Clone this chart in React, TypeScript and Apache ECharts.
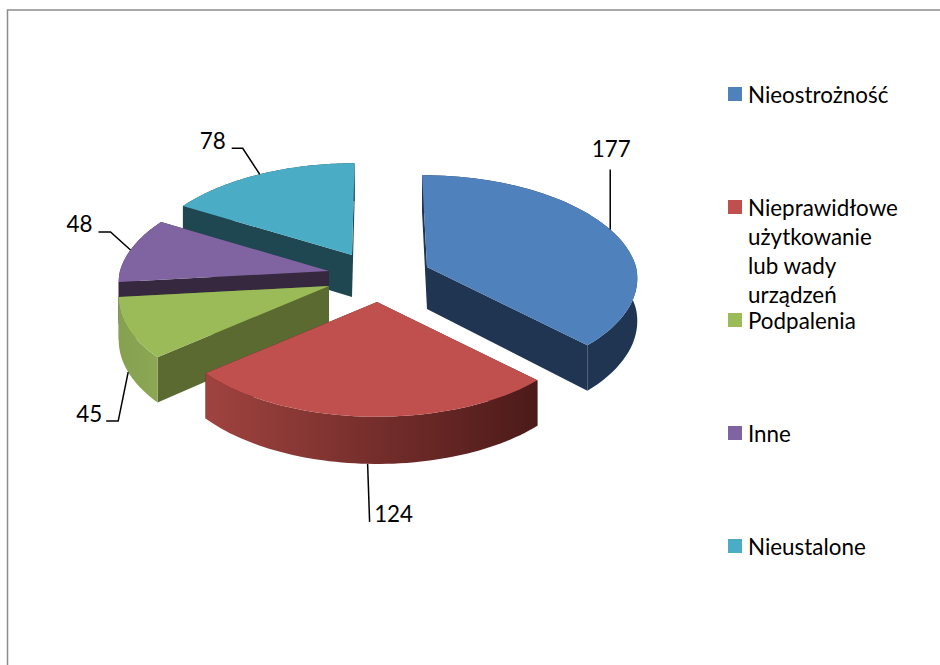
import React, { useEffect, useRef } from "react";
import * as echarts from "echarts";

const names = ["Nieostrożność", "Nieprawidłowe\nużytkowanie\nlub wady\nurządzeń", "Podpalenia", "Inne", "Nieustalone"];
const values = [177, 124, 45, 48, 78];
const topColors = ["#4f81bd", "#c0504d", "#9bbb59", "#8064a2", "#4bacc6"];
const wallColors = ["#1f3552", "#4d1b1a", "#5a6a30", "#35283f", "#1f4751"];
const outerColors: string[][] = [
  ["#1f3552", "#1f3552"],
  ["#a0433f", "#4c1a19"],
  ["#85a04f", "#8da854"],
  ["#35283f", "#35283f"],
  ["#1f4751", "#1f4751"],
];
const drawOrder = [4, 3, 2, 0, 1];

// layout of the exploded 3D pie
const FONT = '22.4px Lato, "Noto Sans", sans-serif';
const VX = 378;
const VY = 270;
const RX = 209;
const RY = 102;
const K = 0.111;
const DEPTH = 42;
const explode = [[49, -3], [-1, 32], [-49, 16], [-49, 1], [-26, -15]];
const leaders = [
  { front: false, pts: [[0, -60]], label: [1, -81] },
  { front: true, pts: [[2, 58]], label: [26, 50] },
  { front: true, pts: [[-10, 49], [-22, 49]], label: [-39, 41] },
  { front: false, pts: [[-20, -18], [-32, -18]], label: [-51, -26] },
  { front: false, pts: [[-17, -26], [-28, -26]], label: [-47, -34] },
];

const total = values.reduce((a, b) => a + b, 0);
const startAngles: number[] = [];
values.reduce((acc, v, i) => {
  startAngles[i] = acc;
  return acc + (v / total) * Math.PI * 2;
}, 0);

function project(i: number, theta: number, r: number, down: number): number[] {
  const u = Math.sin(theta) * r;
  const v = -Math.cos(theta) * r;
  const w = 1 / (1 - K * v);
  const ax = explode[i][0];
  const ay = explode[i][1];
  return [VX + ax * Math.min(w, 1) + RX * u * w, VY + ay + RY * v * w + down * w];
}

function arc(i: number, a0: number, a1: number, down: number): number[][] {
  const n = 60;
  const pts: number[][] = [];
  for (let s = 0; s <= n; s++) pts.push(project(i, a0 + ((a1 - a0) * s) / n, 1, down));
  return pts;
}

function renderItem(params: any, api: any) {
  const i = drawOrder[params.dataIndex];
  const value = api.value(0);
  const a0 = startAngles[i];
  const a1 = a0 + (value / total) * Math.PI * 2;
  const apexTop = project(i, 0, 0, 0);
  const apexBot = project(i, 0, 0, DEPTH);
  const wall = (a: number) => ({
    type: "polygon",
    shape: { points: [apexTop, project(i, a, 1, 0), project(i, a, 1, DEPTH), apexBot] },
    style: { fill: wallColors[i] },
  });
  const outer = {
    type: "polygon",
    shape: { points: [...arc(i, a0, a1, 0), ...arc(i, a0, a1, DEPTH).reverse()] },
    style: {
      fill: new echarts.graphic.LinearGradient(0, 0, 1, 0, [
        { offset: 0, color: outerColors[i][0] },
        { offset: 1, color: outerColors[i][1] },
      ]),
    },
  };
  const top = {
    type: "polygon",
    shape: { points: [apexTop, ...arc(i, a0, a1, 0)] },
    style: { fill: topColors[i] },
  };
  const mid = (a0 + a1) / 2;
  const l = leaders[i];
  const anchor = project(i, mid, 1, l.front ? DEPTH : 0);
  const line = {
    type: "polyline",
    shape: { points: [anchor, ...l.pts.map((p) => [anchor[0] + p[0], anchor[1] + p[1]])] },
    style: { fill: "none", stroke: "#000", lineWidth: 1.5 },
  };
  const text = {
    type: "text",
    style: {
      text: String(value),
      x: anchor[0] + l.label[0],
      y: anchor[1] + l.label[1],
      fill: "#000",
      font: FONT,
      align: "center",
      verticalAlign: "middle",
    },
  };
  return { type: "group", children: [wall(a0), wall(a1), outer, top, line, text] };
}

export default function App() {
  const ref = useRef<HTMLDivElement>(null);
  useEffect(() => {
    const chart = echarts.init(ref.current!, null, { renderer: "svg" });
    const legendRows = names.map((_, i) => 87 + i * 113);
    chart.setOption({
      animation: false,
      backgroundColor: "#fff",
      graphic: [
        {
          type: "polyline",
          silent: true,
          shape: { points: [[7.5, 665], [7.5, 10], [940, 10]] },
          style: { fill: "none", stroke: "#8c8c8c", lineWidth: 1.5 },
        },
        ...names.flatMap((name, i) => [
          {
            type: "rect",
            silent: true,
            shape: { x: 728, y: legendRows[i], width: 14, height: 14 },
            style: { fill: topColors[i] },
          },
          ...name.split("\n").map((part, k) => ({
            type: "text",
            silent: true,
            x: 748,
            y: legendRows[i] + 7 + k * 29,
            style: {
              text: part,
              fill: "#000",
              font: FONT,
              align: "left",
              verticalAlign: "middle",
            },
          })),
        ]),
      ],
      series: [
        {
          type: "custom",
          coordinateSystem: "none",
          silent: true,
          renderItem,
          data: drawOrder.map((i) => [values[i]]),
        },
      ],
    });
    return () => chart.dispose();
  }, []);
  return <div ref={ref} style={{ position: "fixed", left: 0, top: 0, width: 940, height: 665 }} />;
}
